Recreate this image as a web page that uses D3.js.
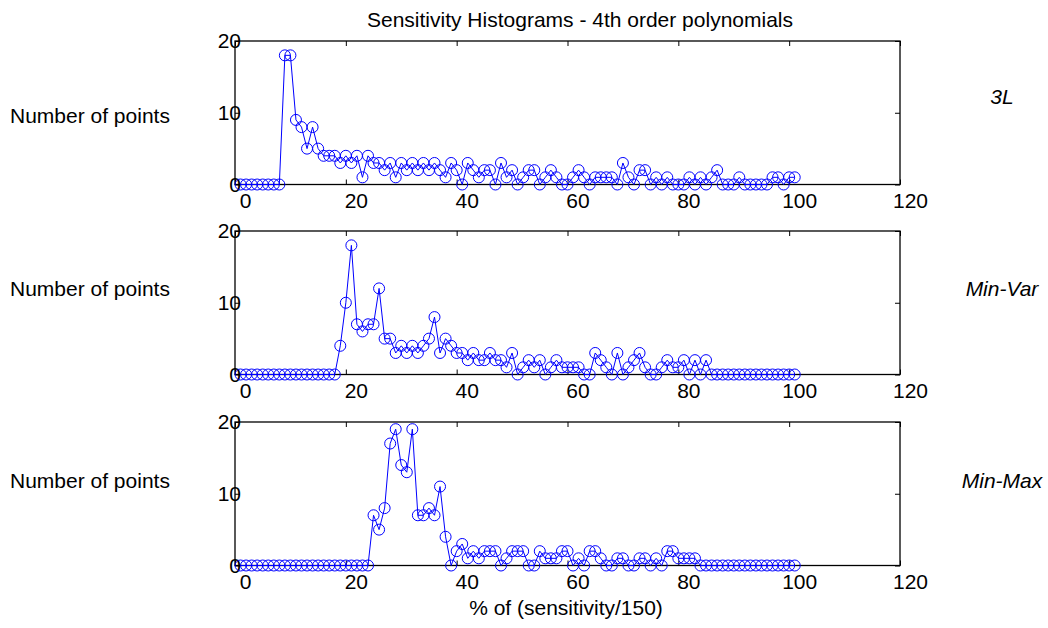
<!DOCTYPE html>
<html>
<head>
<meta charset="utf-8">
<script src="https://cdn.jsdelivr.net/npm/d3@7"></script>
<style>
  body { margin: 0; background: #fff; }
  svg { display: block; }
</style>
</head>
<body>
<svg></svg>
<script>
// bin positions (1..101) and counts
const bins = d3.range(1, 102);

const counts3L = [
  0, 0, 0, 0, 0, 0, 0, 0, 18, 18,
  9, 8, 5, 8, 5, 4, 4, 4, 3, 4,
  3, 4, 1, 4, 3, 3, 2, 3, 1, 3,
  2, 3, 2, 3, 2, 3, 2, 1, 3, 2,
  0, 3, 2, 1, 2, 2, 0, 3, 1, 2,
  0, 1, 2, 2, 0, 1, 2, 1, 0, 0,
  1, 2, 1, 0, 1, 1, 1, 1, 0, 3,
  1, 0, 2, 2, 0, 1, 0, 1, 0, 0,
  0, 1, 0, 1, 0, 1, 2, 0, 0, 0,
  1, 0, 0, 0, 0, 0, 1, 1, 0, 1,
  1
];

const countsMinVar = [
  0, 0, 0, 0, 0, 0, 0, 0, 0, 0,
  0, 0, 0, 0, 0, 0, 0, 0, 4, 10,
  18, 7, 6, 7, 7, 12, 5, 5, 3, 4,
  3, 4, 3, 4, 5, 8, 3, 5, 4, 3,
  3, 2, 3, 2, 2, 3, 2, 2, 1, 3,
  0, 1, 2, 1, 2, 0, 1, 2, 1, 1,
  1, 1, 0, 0, 3, 2, 1, 0, 3, 0,
  1, 2, 3, 1, 0, 0, 1, 2, 1, 1,
  2, 0, 2, 0, 2, 0, 0, 0, 0, 0,
  0, 0, 0, 0, 0, 0, 0, 0, 0, 0,
  0
];

const countsMinMax = [
  0, 0, 0, 0, 0, 0, 0, 0, 0, 0,
  0, 0, 0, 0, 0, 0, 0, 0, 0, 0,
  0, 0, 0, 0, 7, 5, 8, 17, 19, 14,
  13, 19, 7, 7, 8, 7, 11, 4, 0, 2,
  3, 1, 2, 1, 2, 2, 2, 0, 1, 2,
  2, 2, 0, 0, 2, 1, 1, 1, 2, 2,
  0, 1, 0, 2, 2, 1, 0, 0, 1, 1,
  0, 0, 1, 1, 0, 1, 0, 2, 2, 1,
  1, 1, 1, 0, 0, 0, 0, 0, 0, 0,
  0, 0, 0, 0, 0, 0, 0, 0, 0, 0,
  0
];

const seriesNames = ["3L", "Min-Var", "Min-Max"];
const seriesCounts = [counts3L, countsMinVar, countsMinMax];
const xTicks = [0, 20, 40, 60, 80, 100, 120];
const yTicks = [0, 10, 20];

// layout
const W = 1048, H = 628;
const left = 235, right = 900;
const panelTops = [41, 231, 422];
const panelHeight = 143.5;
const leftLabelY = [116, 289, 481];
const rightLabelY = [97, 289, 481];
const font = "'Liberation Sans', Arial, sans-serif";
const fs = 21;
const blue = "#0000ff";

const svg = d3.select("svg")
    .attr("width", W)
    .attr("height", H)
    .style("font-family", font);

const x = d3.scaleLinear().domain([0, 120]).range([left, right]);

svg.append("text")
    .attr("x", 580)
    .attr("y", 27)
    .attr("text-anchor", "middle")
    .attr("font-size", fs)
    .text("Sensitivity Histograms - 4th order polynomials");

seriesCounts.forEach(function (counts, i) {
    const top = panelTops[i];
    const bottom = top + panelHeight;
    const y = d3.scaleLinear().domain([0, 20]).range([bottom, top]);
    const g = svg.append("g");

    // bottom axis (ticks pointing in, labels shifted like the original)
    const xb = g.append("g")
        .attr("transform", `translate(0,${bottom})`)
        .call(d3.axisBottom(x).tickValues(xTicks).tickSizeInner(-5).tickSizeOuter(0).tickPadding(9));
    // top axis ticks only
    g.append("g")
        .attr("transform", `translate(0,${top})`)
        .call(d3.axisTop(x).tickValues(xTicks).tickSizeInner(-5).tickSizeOuter(0).tickFormat(""));
    const yl = g.append("g")
        .attr("transform", `translate(${left},0)`)
        .call(d3.axisLeft(y).tickValues(yTicks).tickSizeInner(-5).tickSizeOuter(0).tickPadding(2));
    g.append("g")
        .attr("transform", `translate(${right},0)`)
        .call(d3.axisRight(y).tickValues(yTicks).tickSizeInner(-5).tickSizeOuter(0).tickFormat(""));

    g.selectAll(".domain").remove();
    g.selectAll(".tick line").attr("stroke", "#000").attr("stroke-width", 1);
    xb.selectAll("text")
        .attr("dx", 10)
        .attr("font-size", fs)
        .attr("font-family", font)
        .attr("fill", "#000");
    yl.selectAll("text")
        .attr("dx", 8)
        .attr("font-size", fs)
        .attr("font-family", font)
        .attr("fill", "#000");

    // frame
    g.append("rect")
        .attr("x", left)
        .attr("y", top)
        .attr("width", right - left)
        .attr("height", bottom - top)
        .attr("fill", "none")
        .attr("stroke", "#000")
        .attr("stroke-width", 1.3);

    const pts = bins.map((b, k) => [b, counts[k]]);
    g.append("path")
        .datum(pts)
        .attr("fill", "none")
        .attr("stroke", blue)
        .attr("stroke-width", 1)
        .attr("d", d3.line().x(d => x(d[0])).y(d => y(d[1])));
    g.selectAll("circle")
        .data(pts)
        .join("circle")
        .attr("cx", d => x(d[0]))
        .attr("cy", d => y(d[1]))
        .attr("r", 5.5)
        .attr("fill", "none")
        .attr("stroke", blue)
        .attr("stroke-width", 1);

    svg.append("text")
        .attr("x", 10)
        .attr("y", leftLabelY[i])
        .attr("dy", "0.35em")
        .attr("font-size", fs)
        .text("Number of points");
    svg.append("text")
        .attr("x", 1002)
        .attr("y", rightLabelY[i])
        .attr("dy", "0.35em")
        .attr("text-anchor", "middle")
        .attr("font-size", fs)
        .attr("font-style", "italic")
        .text(seriesNames[i]);
});

svg.append("text")
    .attr("x", 566)
    .attr("y", 608)
    .attr("dy", "0.35em")
    .attr("text-anchor", "middle")
    .attr("font-size", fs)
    .text("% of (sensitivity/150)");
</script>
</body>
</html>
